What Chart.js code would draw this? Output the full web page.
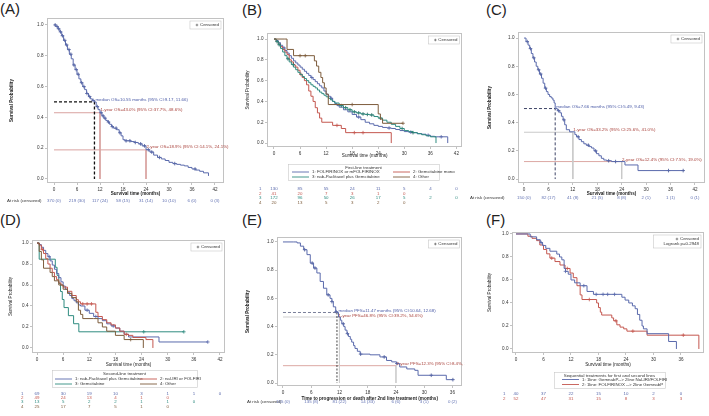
<!DOCTYPE html>
<html>
<head>
<meta charset="utf-8">
<script src="https://cdn.jsdelivr.net/npm/chart.js@4.4.0/dist/chart.umd.min.js"></script>
<style>
  body { margin: 0; background: #fff; width: 709px; height: 416px; position: relative; overflow: hidden; font-family: "Liberation Sans", Arial, sans-serif; }
  canvas { position: absolute; }
  .lab { position: absolute; font-size: 15px; line-height: 15px; color: #222; }
</style>
</head>
<body>
<div class="lab" style="left:0px;top:1px">(A)</div>
<div class="lab" style="left:242px;top:2px">(B)</div>
<div class="lab" style="left:486px;top:2px">(C)</div>
<div class="lab" style="left:0px;top:212px">(D)</div>
<div class="lab" style="left:242px;top:212px">(E)</div>
<div class="lab" style="left:486px;top:212px">(F)</div>
<canvas id="cA" width="232" height="210" style="left:0;top:0"></canvas>
<canvas id="cB" width="233" height="210" style="left:232px;top:0"></canvas>
<canvas id="cC" width="244" height="210" style="left:465px;top:0"></canvas>
<canvas id="cD" width="232" height="206" style="left:0;top:210px"></canvas>
<canvas id="cE" width="233" height="206" style="left:232px;top:210px"></canvas>
<canvas id="cF" width="244" height="206" style="left:465px;top:210px"></canvas>
<script>
var xTicks42 = [0, 6, 12, 18, 24, 30, 36, 42];
var xTicks36 = [0, 6, 12, 18, 24, 30, 36];
var yTicks = [0, 0.2, 0.4, 0.6, 0.8, 1.0];

// colours (SAS-like)
var cBlue = '#5a6aac', cRed = '#c4574f', cTeal = '#2f8c80', cBrown = '#7d5c3c';

// (A) overall survival
var aTime = [0,0.5,1.0,1.5,2.0,2.5,3.0,3.5,4.0,4.5,5.0,5.5,6.0,6.5,7.0,7.5,8.0,8.5,9.0,9.5,10.0,10.55,11.0,11.5,12.0,12.5,13.0,13.5,14.0,14.5,15.0,15.5,16.3,17.0,17.5,18.0,18.5,20.0,21.0,22.0,23.0,24.0,25.0,26.0,27.0,28.0,29.0,30.0,31.0,32.0,33.0,34.0,35.0,36.0,37.0,38.0,39.0,40.3];
var aSurv = [1.0,0.99,0.975,0.955,0.93,0.90,0.87,0.84,0.81,0.78,0.74,0.71,0.68,0.65,0.625,0.60,0.58,0.555,0.535,0.52,0.51,0.50,0.47,0.45,0.43,0.41,0.395,0.38,0.37,0.355,0.34,0.33,0.32,0.30,0.28,0.255,0.248,0.243,0.237,0.228,0.215,0.19,0.175,0.155,0.14,0.13,0.12,0.108,0.10,0.095,0.09,0.085,0.075,0.065,0.058,0.05,0.04,0.02];
var aCens = [0.3,0.8,1.2,1.7,2.2,2.8,3.3,3.9,4.4,5.2,5.8,6.3,7.2,7.8,8.6,9.3,10.2,11.3,12.3,12.8,13.3,14.2,15.2,16.2,17.2,18.8,19.8,21.2,22.6,23.6,24.6,25.5,27.5,31.5,36.8];
var aRisk = ['370 (0)', '219 (30)', '117 (24)', '58 (15)', '31 (14)', '10 (10)', '6 (0)', '0 (3)'];
var aMedian = 10.55, aYear1 = 0.430, aYear2 = 0.189;
var aNotes = ['median OS=10.55 months (95% CI:9.17, 11.66)', '1-year OS=43.0% (95% CI:37.7%, 48.6%)', '2-year OS=18.9% (95% CI:14.1%, 24.1%)'];

// (B) by first-line treatment
var bGroups = ['1: FOLFIRINOX or mFOLFIRINOX', '2: Gemcitabine mono', '3: nab-Paclitaxel plus Gemcitabine', '4: Other'];
var bTime1 = [0,0.5,1,1.5,2,2.5,3,3.5,4,4.5,5,5.5,6,6.5,7,7.5,8,8.5,9,9.5,10,10.5,11,11.5,12,12.5,13,13.5,14,14.5,15,16,17,18,19,20,21,22,23,24,25,26,27,28,29,30,31,32,33,34,35,36,37,40];
var bSurv1 = [1,0.985,0.965,0.94,0.915,0.89,0.865,0.84,0.815,0.79,0.77,0.75,0.73,0.71,0.69,0.67,0.65,0.63,0.61,0.59,0.57,0.55,0.53,0.50,0.47,0.45,0.43,0.40,0.38,0.36,0.345,0.32,0.30,0.275,0.25,0.225,0.2,0.185,0.17,0.16,0.15,0.145,0.14,0.13,0.12,0.11,0.105,0.1,0.09,0.085,0.075,0.065,0.06,0];
var bCens1 = [2.3,8.7,13.2,19.5,26.5,31.5,35.5,38.5];
var bTime2 = [0,0.5,1,1.5,2,2.5,3,3.5,4,4.5,5,5.5,6,6.5,7,7.5,8,8.5,9,9.5,10,10.5,11,13.5,15.5,16.5,27];
var bSurv2 = [1,0.976,0.95,0.927,0.9,0.875,0.85,0.8,0.78,0.75,0.73,0.7,0.66,0.63,0.6,0.56,0.5,0.45,0.4,0.34,0.29,0.24,0.2,0.17,0.14,0.1,0];
var bCens2 = [6.2,14.5,18.5,20.5];
var bTime3 = [0,0.5,1,1.5,2,2.5,3,3.5,4,4.5,5,5.5,6,6.5,7,7.5,8,8.5,9,9.5,10,10.5,11,11.5,12,12.5,13,13.5,14,15,16,17,18,19,20,21,22,23,24,25,26,27,28,29,30,31,32,33,34,35,36,37.3];
var bSurv3 = [1,0.975,0.945,0.91,0.875,0.84,0.81,0.78,0.755,0.73,0.705,0.68,0.66,0.64,0.62,0.6,0.58,0.56,0.545,0.53,0.51,0.49,0.475,0.46,0.445,0.43,0.415,0.4,0.385,0.36,0.34,0.32,0.3,0.29,0.28,0.275,0.27,0.255,0.24,0.22,0.2,0.18,0.16,0.14,0.12,0.11,0.1,0.09,0.08,0.07,0.06,0];
var bCens3 = [0.7,1.2,3.2,4.4,15.5,16.5,17.5,18.5,19.5,20.5,21.5,22.5,24.5,29.5,32];
var bTime4 = [0,2.5,3,4.5,9.3,9.8,10.3,10.8,11.2,11.6,12,12.5,24,24.5,25,29.7];
var bSurv4 = [1,1,0.9,0.84,0.79,0.74,0.68,0.63,0.58,0.53,0.47,0.37,0.28,0.23,0.19,0.19];
var bCens4 = [6,7.2,18,29.7];
var bRisk = [
  ['130', '85', '55', '24', '11', '5', '4', '0'],
  ['41', '20', '7', '3', '1', '0'],
  ['172', '96', '50', '26', '17', '5', '2', '0'],
  ['20', '13', '5', '3', '2', '0']
];

// (C) overall survival, second cohort
var cTime = [0,0.5,1,1.4,1.8,2.2,2.6,3,3.4,3.8,4.3,4.7,5.1,5.5,5.9,6.3,6.7,7.1,7.4,7.66,8.2,8.8,9.2,9.6,10,10.4,11.2,12.5,12.9,13.5,14.1,14.7,15.3,16,16.6,17.2,17.8,18.4,19,19.6,20.3,21.5,24.8,28,39.1];
var cSurv = [1,0.975,0.95,0.925,0.89,0.86,0.83,0.8,0.775,0.745,0.715,0.68,0.645,0.62,0.6,0.585,0.575,0.56,0.54,0.5,0.485,0.47,0.445,0.42,0.385,0.35,0.335,0.315,0.3,0.28,0.265,0.25,0.24,0.23,0.22,0.2,0.18,0.165,0.147,0.135,0.13,0.124,0.1,0.06,0.06];
var cCens = [0.8,1.6,2.4,3.6,4.1,5.3,8.5,9.8,13.3,15.8,17.6,20.8,22.5,35.5,39.1];
var cRisk = ['150 (0)', '82 (17)', '41 (8)', '21 (5)', '8 (8)', '2 (1)', '1 (1)', '0 (1)'];
var cMedian = 7.66, cYear1 = 0.332, cYear2 = 0.124;
var cNotes = ['median OS=7.66 months (95% CI:5.49, 9.43)', '1-year OS=33.2% (95% CI:25.6%, 41.0%)', '2-year OS=12.4% (95% CI:7.5%, 19.0%)'];

// (D) by second-line treatment
var dGroups = ['1: nab-Paclitaxel plus Gemcitabine', '2: nal-IRI or FOLFIRI', '3: Gemcitabine', '4: Other'];
var dTime1 = [0,0.5,1,1.5,2,2.5,3,3.5,4,4.5,5,5.5,6,6.5,7,7.5,8,8.5,9,9.5,10,11,12,13,14,15,16,17,18,19,20,21,28,39.2];
var dSurv1 = [1,0.985,0.96,0.93,0.9,0.87,0.83,0.79,0.75,0.71,0.67,0.63,0.59,0.56,0.53,0.5,0.47,0.45,0.43,0.41,0.4,0.36,0.33,0.3,0.28,0.26,0.23,0.21,0.19,0.16,0.13,0.105,0.057,0.057];
var dCens1 = [2.8,11.5,13.5,17.5,39.2];
var dTime2 = [0,0.5,1,1.5,2,2.5,3,3.5,4,4.5,5,5.5,6,7,8,9,9.5,10,13.5,14,15,16,17,18,19,20,21,22,25,26.6];
var dSurv2 = [1,0.98,0.94,0.9,0.85,0.8,0.76,0.72,0.68,0.65,0.62,0.6,0.58,0.54,0.5,0.46,0.44,0.42,0.34,0.3,0.27,0.24,0.22,0.19,0.16,0.13,0.12,0.1,0.08,0];
var dCens2 = [1.2,10.5,11.5,12.5,20.5];
var dTime3 = [0,0.5,4.2,4.6,5.0,5.4,5.8,6.2,7.2,8.4,9.6,33.7];
var dSurv3 = [1,0.846,0.769,0.692,0.615,0.538,0.462,0.385,0.308,0.231,0.154,0.154];
var dCens3 = [24.5,33.7];
var dTime4 = [0,0.5,1,1.5,3,3.5,4,5,6,7,8,9,9.5,10,10.5,13,14,15,16,18,20,24.4];
var dSurv4 = [1,0.92,0.84,0.76,0.72,0.68,0.64,0.6,0.56,0.52,0.48,0.44,0.36,0.32,0.28,0.28,0.24,0.2,0.16,0.12,0.08,0];
var dCens4 = [21.5];
var dRisk = [
  ['69', '30', '19', '10', '3', '1', '1', '0'],
  ['49', '24', '13', '4', '1', '0'],
  ['13', '5', '2', '2', '1', '1', '0'],
  ['25', '17', '7', '5', '1', '0']
];

// (E) progression-free survival after 2nd line
var eTime = [0,2.3,3,3.7,4.4,5.1,5.8,6.5,7.2,7.9,8.6,9.3,10,10.4,10.7,11.2,11.47,11.8,12.2,12.5,12.9,13.2,13.6,13.9,14.3,14.6,15,15.3,15.8,16.4,18.5,20.6,22,23.1,24.1,24.8,26.3,28,28.7,34.7,36.1];
var eSurv = [1,1,0.993,0.97,0.945,0.91,0.85,0.815,0.78,0.72,0.672,0.625,0.6,0.577,0.54,0.506,0.5,0.468,0.445,0.42,0.4,0.375,0.35,0.33,0.31,0.29,0.265,0.245,0.225,0.205,0.2,0.185,0.16,0.15,0.138,0.114,0.1,0.09,0.055,0.024,0.024];
var eCens = [4.6,6.2,6.8,9.6,10.4,11.3,12.8,13.7,16.5,21.5,24.2,31.5,36.1];
var eRisk = ['155 (0)', '135 (8)', '81 (22)', '14 (33)', '6 (6)', '3 (1)', '0 (2)'];
var eMedian = 11.47, eYear1 = 0.468, eYear2 = 0.123;
var eNotes = ['median PFS=11.47 months (95% CI:10.64, 12.68)', '1-year PFS=46.8% (95% CI:39.2%, 54.6%)', '2-year PFS=12.3% (95% CI:8.4%, 18.4%)'];

// (F) sequential treatments
var fGroups = ['1: 1line: GemnabP--> 2line Nal-IRI/FOLFIRI', '2: 1line: FOLFIRINOX --> 2line GemnabP'];
var fTime1 = [0,3.1,4.5,5.3,5.8,6.5,7.4,8.9,9.5,10,10.5,10.8,11.4,12,12.8,14,15.5,16.9,23.1,23.8,24.6,25.4,26,26.5,27,27.5,27.8,28.6,33.3,35];
var fSurv1 = [1,0.975,0.95,0.925,0.9,0.875,0.85,0.825,0.8,0.775,0.7,0.675,0.65,0.6,0.575,0.55,0.5,0.475,0.45,0.425,0.4,0.375,0.35,0.3,0.25,0.2,0.175,0.133,0.065,0];
var fCens1 = [5.5,10.8,14.8,17.5,19,20,21.5];
var fTime2 = [0,2.6,3.5,4.5,5.2,6,6.7,7.4,8.5,9.6,10.7,11.8,12.5,13.3,14,14.4,17.6,18,18.4,18.7,20.9,21.3,22,22.7,23.5,24.2,28.6,39.9];
var fSurv2 = [1,0.98,0.962,0.942,0.904,0.865,0.827,0.79,0.76,0.73,0.70,0.66,0.62,0.55,0.47,0.43,0.40,0.36,0.32,0.295,0.27,0.245,0.21,0.19,0.175,0.155,0.12,0];
var fCens2 = [7.8,11.2,16,21.8,25.5,36.5];
var fRisk = [
  ['40', '37', '22', '15', '10', '2', '0'],
  ['52', '47', '31', '15', '8', '3', '3']
];
var fLogrank = 'Logrank p=0.2948';

Chart.defaults.font.family = "'Liberation Sans', Arial, sans-serif";

function pts(t, s) { return t.map(function(v, i) { return { x: v, y: s[i] }; }); }
function survAt(t, s, x) { var y = s[0]; for (var i = 0; i < t.length; i++) { if (t[i] <= x) y = s[i]; } return y; }
function km(t, s, col) {
  return { data: pts(t, s), stepped: 'before', borderColor: col, borderWidth: 1, pointRadius: 0, fill: false };
}
function marks(t, s, c, col) {
  return { data: c.map(function(x) { return { x: x, y: survAt(t, s, x) }; }), showLine: false,
    pointStyle: 'cross', pointRadius: 1.8, borderColor: col, borderWidth: 0.8, pointHoverRadius: 0 };
}
function ref(p, col, dash, w) {
  return { data: p, borderColor: col, borderDash: dash || [], borderWidth: w || 1, pointRadius: 0, fill: false };
}

var FONT = "'Liberation Sans', Arial, sans-serif";

var kmPlugin = {
  id: 'km',
  afterDraw: function(chart, args, o) {
    var ctx = chart.ctx, ca = chart.chartArea, xs = chart.scales.x, ys = chart.scales.y;
    ctx.save();
    ctx.strokeStyle = '#c2c2c2';
    ctx.lineWidth = 1;
    ctx.strokeRect(Math.round(ca.left) + 0.5, Math.round(ca.top) + 0.5, Math.round(ca.right - ca.left) - 1, Math.round(ca.bottom - ca.top) - 1);

    // censored legend (top right)
    ctx.font = '4.4px ' + FONT;
    var lines = ['Censored'].concat(o.extra ? [o.extra] : []);
    var tw = 0;
    lines.forEach(function(l) { tw = Math.max(tw, ctx.measureText(l).width); });
    var bw = tw + 12, bh = 3 + lines.length * 5;
    var bx = ca.right - bw - 3, by = ca.top + 3;
    ctx.fillStyle = '#fff';
    ctx.fillRect(bx, by, bw, bh);
    ctx.strokeStyle = '#c8c8c8';
    ctx.lineWidth = 0.6;
    ctx.strokeRect(bx, by, bw, bh);
    ctx.fillStyle = '#333';
    ctx.textBaseline = 'middle';
    ctx.textAlign = 'right';
    lines.forEach(function(l, i) { ctx.fillText(l, bx + bw - 2, by + 4 + i * 5); });
    var cx = bx + bw - 2 - ctx.measureText('Censored').width - 3;
    ctx.strokeStyle = '#444';
    ctx.lineWidth = 0.6;
    ctx.beginPath();
    ctx.moveTo(cx - 1.3, by + 4); ctx.lineTo(cx + 1.3, by + 4);
    ctx.moveTo(cx, by + 2.7); ctx.lineTo(cx, by + 5.3);
    ctx.stroke();

    // notes
    ctx.textAlign = 'left';
    (o.notes || []).forEach(function(n) {
      ctx.fillStyle = n.color;
      ctx.fillText(n.text, xs.getPixelForValue(n.x), ys.getPixelForValue(n.y));
    });

    // legend box
    if (o.legend) {
      var L = o.legend;
      ctx.strokeStyle = '#c8c8c8';
      ctx.lineWidth = 0.6;
      ctx.strokeRect(L.x + 0.5, L.y + 0.5, L.w, L.h);
      ctx.fillStyle = '#333';
      ctx.textAlign = 'center';
      ctx.fillText(L.title, L.x + L.w / 2, L.y + 3.5);
      ctx.textAlign = 'left';
      L.items.forEach(function(it) {
        ctx.strokeStyle = it.color;
        ctx.lineWidth = 0.9;
        ctx.beginPath(); ctx.moveTo(it.x, it.y); ctx.lineTo(it.x + 17, it.y); ctx.stroke();
        ctx.fillStyle = '#333';
        ctx.fillText(it.text, it.x + 20, it.y);
      });
    }

    // number at risk
    (o.risk || []).forEach(function(r) {
      ctx.textAlign = 'left';
      ctx.fillStyle = r.labelColor || r.color;
      ctx.fillText(r.label, r.labelX, r.y);
      ctx.textAlign = 'center';
      ctx.fillStyle = r.color;
      r.values.forEach(function(v, i) { ctx.fillText(v, xs.getPixelForValue(r.ticks[i]), r.y); });
    });
    ctx.restore();
  }
};

function makeChart(id, g, datasets, extras) {
  var tickFont = { size: 4.6, family: FONT };
  new Chart(document.getElementById(id), {
    type: 'line',
    data: { datasets: datasets },
    options: {
      responsive: false, animation: false, devicePixelRatio: 1, events: [],
      layout: { padding: { left: 0, top: g.top, right: g.right, bottom: 0 } },
      plugins: { legend: { display: false }, tooltip: { enabled: false }, km: extras },
      scales: {
        x: {
          type: 'linear', min: g.xmin, max: g.xmax,
          afterBuildTicks: function(s) { s.ticks = g.xt.map(function(v) { return { value: v }; }); },
          afterFit: function(s) { s.height = g.xh; },
          grid: { drawOnChartArea: false, tickLength: 2, color: '#999', lineWidth: 0.6 },
          border: { display: false },
          ticks: { font: tickFont, color: '#333', padding: 1.5, maxRotation: 0, autoSkip: false },
          title: { display: true, text: g.xtitle, color: '#222', font: { size: 4.6, weight: g.bold ? 'bold' : 'normal', family: FONT }, padding: { top: 0, bottom: g.xtp } }
        },
        y: {
          type: 'linear', min: g.ymin, max: g.ymax,
          afterBuildTicks: function(s) { s.ticks = yTicks.map(function(v) { return { value: v }; }); },
          afterFit: function(s) { s.width = g.yw; },
          grid: { drawOnChartArea: false, tickLength: 2, color: '#999', lineWidth: 0.6 },
          border: { display: false },
          ticks: { font: tickFont, color: '#333', padding: 1.5, autoSkip: false, callback: function(v) { return v.toFixed(1); } },
          title: { display: true, text: 'Survival Probability', color: '#222', font: { size: 4.6, weight: g.bold ? 'bold' : 'normal', family: FONT }, padding: { top: g.ytp, bottom: 0 } }
        }
      }
    },
    plugins: [kmPlugin]
  });
}

var noteBlue = '#4a5aa6', noteRed = '#a8403a', riskBlue = '#6373b3';

// (A)
makeChart('cA',
  { top: 18, right: 8, yw: 47, xh: 27, xmin: -1.83, xmax: 44.35, ymin: -0.026, ymax: 1.045, xt: xTicks42, xtitle: 'Survival time (months)', bold: true, xtp: 13.2, ytp: 9 },
  [
    km(aTime, aSurv, cBlue),
    marks(aTime, aSurv, aCens, '#3f4f92'),
    ref([{ x: 0, y: 0.5 }, { x: aMedian, y: 0.5 }, { x: aMedian, y: 0 }], '#111', [3, 2], 1.3),
    ref([{ x: 0, y: aYear1 }, { x: 12, y: aYear1 }, { x: 12, y: 0 }], '#d9a3a0', [], 1),
    ref([{ x: 0, y: aYear2 }, { x: 24, y: aYear2 }, { x: 24, y: 0 }], '#d9a3a0', [], 1)
  ],
  {
    notes: [
      { x: 10.8, y: 0.515, text: aNotes[0], color: noteBlue },
      { x: 12.1, y: 0.452, text: aNotes[1], color: noteRed },
      { x: 24.1, y: 0.207, text: aNotes[2], color: noteRed }
    ],
    risk: [{ y: 201, label: 'At risk (censored)', labelX: 7, labelColor: '#333', color: riskBlue, values: aRisk, ticks: xTicks42 }]
  });

// (B)
makeChart('cB',
  { top: 33, right: 2, yw: 35, xh: 63, xmin: -1.61, xmax: 43.38, ymin: -0.038, ymax: 1.058, xt: xTicks42, xtitle: 'Survival time (months)', bold: false, xtp: 52, ytp: 13 },
  [
    km(bTime4, bSurv4, cBrown), marks(bTime4, bSurv4, bCens4, cBrown),
    km(bTime3, bSurv3, cTeal), marks(bTime3, bSurv3, bCens3, '#1e5e56'),
    km(bTime2, bSurv2, cRed), marks(bTime2, bSurv2, bCens2, cRed),
    km(bTime1, bSurv1, cBlue), marks(bTime1, bSurv1, bCens1, cBlue)
  ],
  {
    legend: { x: 56, y: 164, w: 151, h: 16, title: 'First-line treatment', items: [
      { x: 60, y: 172, color: cBlue, text: bGroups[0] },
      { x: 161, y: 172, color: cRed, text: bGroups[1] },
      { x: 60, y: 177, color: cTeal, text: bGroups[2] },
      { x: 161, y: 177, color: cBrown, text: bGroups[3] }
    ] },
    risk: [
      { y: 189, label: '1', labelX: 27, color: cBlue, values: bRisk[0], ticks: xTicks42 },
      { y: 193.5, label: '2', labelX: 27, color: cRed, values: bRisk[1], ticks: xTicks42 },
      { y: 198, label: '3', labelX: 27, color: cTeal, values: bRisk[2], ticks: xTicks42 },
      { y: 202.5, label: '4', labelX: 27, color: cBrown, values: bRisk[3], ticks: xTicks42 }
    ]
  });

// (C)
makeChart('cC',
  { top: 32, right: 4, yw: 53, xh: 27, xmin: -1.47, xmax: 44.46, ymin: -0.028, ymax: 1.043, xt: xTicks42, xtitle: 'Survival time (months)', bold: true, xtp: 14, ytp: 22 },
  [
    km(cTime, cSurv, cBlue),
    marks(cTime, cSurv, cCens, '#3f4f92'),
    ref([{ x: 0, y: 0.5 }, { x: cMedian, y: 0.5 }, { x: cMedian, y: 0 }], '#3d4466', [3, 2], 1),
    ref([{ x: 0, y: cYear1 }, { x: 12, y: cYear1 }, { x: 12, y: 0 }], '#c9c9c9', [], 1),
    ref([{ x: 0, y: cYear2 }, { x: 24, y: cYear2 }], '#dca8a4', [], 1),
    ref([{ x: 24, y: cYear2 }, { x: 24, y: 0 }], '#c9c9c9', [], 1)
  ],
  {
    notes: [
      { x: 7.9, y: 0.512, text: cNotes[0], color: noteBlue },
      { x: 12.1, y: 0.347, text: cNotes[1], color: noteRed },
      { x: 24.1, y: 0.14, text: cNotes[2], color: noteRed }
    ],
    risk: [{ y: 198, label: 'At risk (censored)', labelX: 5, labelColor: '#333', color: riskBlue, values: cRisk, ticks: xTicks42 }]
  });

// (D)
makeChart('cD',
  { top: 30, right: 7, yw: 32, xh: 63, xmin: -1.15, xmax: 43.15, ymin: -0.048, ymax: 1.029, xt: xTicks42, xtitle: 'Survival time (months)', bold: false, xtp: 49, ytp: 8 },
  [
    km(dTime4, dSurv4, cBrown), marks(dTime4, dSurv4, dCens4, cBrown),
    km(dTime2, dSurv2, cRed), marks(dTime2, dSurv2, dCens2, cRed),
    km(dTime1, dSurv1, cBlue), marks(dTime1, dSurv1, dCens1, cBlue),
    km(dTime3, dSurv3, cTeal), marks(dTime3, dSurv3, dCens3, cTeal)
  ],
  {
    legend: { x: 52, y: 160, w: 145, h: 17, title: 'Second-line treatment', items: [
      { x: 55, y: 169, color: cBlue, text: dGroups[0] },
      { x: 140, y: 169, color: cRed, text: dGroups[1] },
      { x: 55, y: 174, color: cTeal, text: dGroups[2] },
      { x: 140, y: 174, color: cBrown, text: dGroups[3] }
    ] },
    risk: [
      { y: 184, label: '1', labelX: 21, color: cBlue, values: dRisk[0], ticks: xTicks42 },
      { y: 188, label: '2', labelX: 21, color: cRed, values: dRisk[1], ticks: xTicks42 },
      { y: 192, label: '3', labelX: 21, color: cTeal, values: dRisk[2], ticks: xTicks42 },
      { y: 196.5, label: '4', labelX: 21, color: cBrown, values: dRisk[3], ticks: xTicks42 }
    ]
  });

// (E)
makeChart('cE',
  { top: 27, right: 2, yw: 45, xh: 30, xmin: -1.27, xmax: 38.12, ymin: -0.021, ymax: 1.035, xt: xTicks36, xtitle: 'Time to progression or death after 2nd line treatment (months)', bold: true, xtp: 15, ytp: 13 },
  [
    km(eTime, eSurv, cBlue),
    marks(eTime, eSurv, eCens, '#3f4f92'),
    ref([{ x: 0, y: 0.5 }, { x: eMedian, y: 0.5 }], '#7a7f99', [3, 2], 1),
    ref([{ x: eMedian, y: 0.5 }, { x: eMedian, y: 0 }], '#444', [2, 1.5], 1),
    ref([{ x: 0, y: eYear1 }, { x: 12, y: eYear1 }, { x: 12, y: 0 }], '#cfcfcf', [], 1),
    ref([{ x: 0, y: eYear2 }, { x: 24, y: eYear2 }], '#dca8a4', [], 1),
    ref([{ x: 24, y: eYear2 }, { x: 24, y: 0 }], '#cfcfcf', [], 1)
  ],
  {
    notes: [
      { x: 11.8, y: 0.515, text: eNotes[0], color: noteBlue },
      { x: 11.8, y: 0.478, text: eNotes[1], color: noteRed },
      { x: 24.1, y: 0.133, text: eNotes[2], color: noteRed }
    ],
    risk: [{ y: 192, label: 'At risk (censored)', labelX: 15, labelColor: '#333', color: riskBlue, values: eRisk, ticks: xTicks36 }]
  });

// (F)
makeChart('cF',
  { top: 22, right: 5, yw: 47, xh: 63, xmin: -0.87, xmax: 41.02, ymin: -0.035, ymax: 1.017, xt: xTicks36, xtitle: 'Survival time (months)', bold: false, xtp: 49, ytp: 22 },
  [
    km(fTime1, fSurv1, cBlue), marks(fTime1, fSurv1, fCens1, cBlue),
    km(fTime2, fSurv2, cRed), marks(fTime2, fSurv2, fCens2, cRed)
  ],
  {
    extra: fLogrank,
    legend: { x: 89, y: 162, w: 111, h: 16, title: 'Sequential treatments for first and second lines', items: [
      { x: 97, y: 169.5, color: cBlue, text: fGroups[0] },
      { x: 97, y: 174.5, color: cRed, text: fGroups[1] }
    ] },
    risk: [
      { y: 184, label: '1', labelX: 38, color: cBlue, values: fRisk[0], ticks: xTicks36 },
      { y: 188.5, label: '2', labelX: 38, color: cRed, values: fRisk[1], ticks: xTicks36 }
    ]
  });
</script>
</body>
</html>
